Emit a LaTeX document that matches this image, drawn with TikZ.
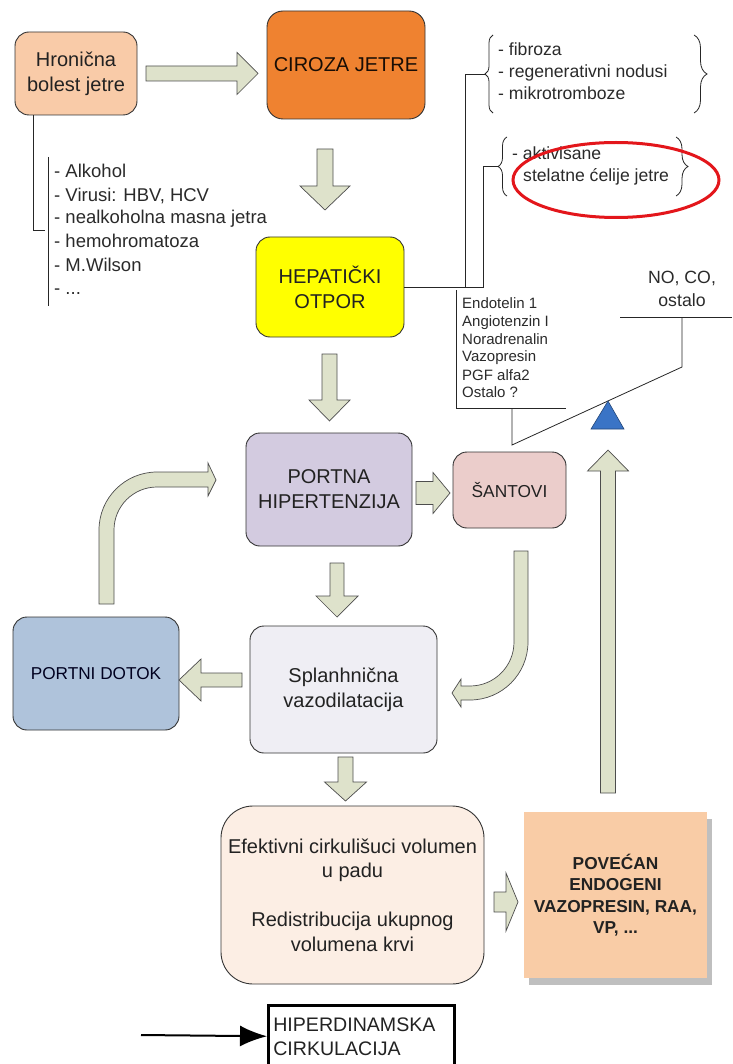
\documentclass[tikz,border=0pt]{standalone}
\usepackage{fontspec}
\setmainfont{Liberation Sans}
\usetikzlibrary{arrows.meta,decorations.pathreplacing,calc}
\definecolor{chron}{HTML}{F9CBA8}
\definecolor{cciroza}{HTML}{EF8230}
\definecolor{chepat}{HTML}{FFFF00}
\definecolor{cportna}{HTML}{D3CBE0}
\definecolor{csant}{HTML}{EBCDCB}
\definecolor{cportni}{HTML}{AFC3DB}
\definecolor{csplanh}{HTML}{EFEEF4}
\definecolor{cefekt}{HTML}{FCEEE4}
\definecolor{cpov}{HTML}{F9CCA6}
\definecolor{arrowfill}{HTML}{DEE2CB}
\definecolor{arrowline}{HTML}{4D4D4D}
\definecolor{boxline}{HTML}{333333}
\definecolor{cshadow}{HTML}{BFBFBF}
\definecolor{ctri}{HTML}{3A74C6}
\definecolor{cred}{HTML}{E3161B}
\definecolor{txt}{HTML}{222222}
\definecolor{listc}{HTML}{2A2A2A}
\newcommand\myfs[2]{\fontsize{#1}{#2}\selectfont}
% #1 x, #2 y (tail centre), #3 angle, #4 length, #5 shaft half width, #6 head half width, #7 head length
\newcommand\blockarrow[7]{%
  \filldraw[fatarrow,shift={(#1,#2)},rotate=#3] (0,-#5) -- (#4-#7,-#5) -- (#4-#7,-#6) -- (#4,0) -- (#4-#7,#6) -- (#4-#7,#5) -- (0,#5) -- cycle;}
\begin{document}
\begin{tikzpicture}[x=1pt,y=-1pt,
  box/.style={draw=boxline, line width=0.9pt, rounded corners=14pt, align=center, inner sep=0pt, text=txt},
  fatarrow/.style={fill=arrowfill, draw=arrowline, line width=0.7pt, line join=miter},
  conn/.style={draw=black!85, line width=0.8pt},
  listtxt/.style={anchor=mid west, inner sep=0pt, font=\myfs{18.5}{22}, text=listc},
  brtxt/.style={anchor=mid west, inner sep=0pt, font=\myfs{17.6}{22}, text=listc},
  smtxt/.style={anchor=mid west, inner sep=0pt, font=\myfs{15}{18}, text=listc},
  br/.style={conn, decorate, decoration={brace, amplitude=#1}},
]
\useasboundingbox (0,0) rectangle (732,1064);

% boxes
\node[box, fill=chron, minimum width=122pt, minimum height=83pt, font=\myfs{20}{25}] (hron) at (76,73.5) {Hronična\\bolest jetre};
\node[box, fill=cciroza, minimum width=158pt, minimum height=108pt, rounded corners=16pt, font=\myfs{20}{25}, text={black!80!cciroza!50!black}] (ciroza) at (346,65) {CIROZA JETRE};
\node[box, fill=chepat, minimum width=148pt, minimum height=100pt, font=\myfs{20}{25}] (hepat) at (330,287) {HEPATIČKI\\OTPOR};
\node[box, fill=cportna, minimum width=166pt, minimum height=113pt, font=\myfs{20}{25}] (portna) at (329,489.5) {PORTNA\\HIPERTENZIJA};
\node[box, fill=csant, minimum width=113pt, minimum height=76pt, font=\myfs{17.3}{22}] (sant) at (509.5,490) {ŠANTOVI};
\node[box, fill=cportni, minimum width=166pt, minimum height=113pt, font=\myfs{17.2}{22}, text={black!70!blue!40!black}] (portni) at (96,673.5) {PORTNI DOTOK};
\node[box, fill=csplanh, minimum width=187pt, minimum height=127pt, font=\myfs{20}{25}] (splanh) at (343.5,689.5) {Splanhnična\\vazodilatacija};
\node[box, fill=cefekt, minimum width=263pt, minimum height=178pt, rounded corners=32pt, font=\myfs{20}{24.5}] (efekt) at (352.5,895) {Efektivni cirkulišuci volumen\\u padu\\[24.5pt]Redistribucija ukupnog\\volumena krvi};
\fill[cshadow] (529,819) rectangle (712,985);
\node[fill=cpov, minimum width=183pt, minimum height=166pt, inner sep=0pt, align=center, font=\bfseries\myfs{17.3}{21.5}, text=txt] (pov) at (615.5,895) {POVEĆAN\\ENDOGENI\\VAZOPRESIN, RAA,\\VP, ...};
\node[draw=black, line width=2.5pt, minimum width=186pt, minimum height=62pt, anchor=north west, inner sep=5pt, align=left, font=\myfs{19.6}{24}, text=txt, text width=176pt] (hiper) at (267,1004) {HIPERDINAMSKA\\CIRKULACIJA};
\coordinate (hstart) at (141,1035);
\draw[line width=2pt, -{Latex[length=27pt,width=21pt]}] (hstart) -- (hiper.west);

% block arrows
\blockarrow{146}{73.5}{0}{112}{7.5}{21}{21}
\blockarrow{325}{149}{-90}{61}{8}{25}{24}
\blockarrow{329.5}{354}{-90}{67}{7.5}{20.5}{21}
\blockarrow{416}{493}{0}{34}{11.5}{20.5}{17}
\blockarrow{337}{563}{-90}{54}{7}{21}{21}
\blockarrow{242}{680}{180}{63}{7}{21}{22}
\blockarrow{345.5}{757}{-90}{44}{7.5}{21}{19}
\blockarrow{494}{902}{0}{24}{10}{29}{12}
\blockarrow{608}{793}{90}{343}{7.5}{20.5}{21}

% curved block arrows
\filldraw[fatarrow] (99,604) -- (99,530) arc[start angle=180, end angle=270, radius=58] -- (208,472) -- (208,463) -- (216,480) -- (208,496) -- (208,487) -- (157,487) arc[start angle=270, end angle=180, radius=43] -- (114,604) -- cycle;
\filldraw[fatarrow] (514,551) -- (528,551) -- (528,642) arc[start angle=0, end angle=90, radius=58] -- (461,700) -- (461,707) -- (452,693) -- (461,679) -- (461,686) -- (470,686) arc[start angle=90, end angle=0, radius=44] -- cycle;

% left list
\draw[conn] ($(hron.south west)+(19,0)$) |- (45,230);
\draw[conn] (48,157) -- (48,306);
\foreach \t/\y in {{- Alkohol}/173, {- Virusi: HBV, HCV}/197, {- nealkoholna masna jetra}/219, {- hemohromatoza}/243, {- M.Wilson}/267, {- ...}/290}
  \node[listtxt] at (54,\y+2) {\t};

% braces and lines from hepaticki
\coordinate (b1tip) at (485,74);
\coordinate (b2tip) at (498,166);
\draw[conn] (hepat.east) -- (483,287) |- (b2tip);
\draw[conn] (465,287) |- (b1tip);
\draw[br=8pt] (493,113) -- (493,35);
\draw[br=13pt] (694,35) -- (694,113);
\draw[br=9pt] (507,196) -- (507,137);
\draw[br=12pt] (676,137) -- (676,196);
\node[brtxt] at (498,53) {- fibroza};
\node[brtxt] at (498,75) {- regenerativni nodusi};
\node[brtxt] at (498,97) {- mikrotromboze};
\node[brtxt] at (512,157) {- aktivisane};
\node[brtxt] at (523,179) {stelatne ćelije jetre};
\draw[cred, line width=3pt] (616,180) ellipse [x radius=103, y radius=37.5];

% vasoconstrictor list and seesaw
\draw[conn] (456,290) -- (456,408) -- (566,408);
\foreach \t/\y in {{Endotelin 1}/304, {Angiotenzin I}/322, {Noradrenalin}/340, {Vazopresin}/357, {PGF alfa2}/376, {Ostalo ?}/393}
  \node[smtxt] at (462,\y+1.5) {\t};
\coordinate (pivL) at (512,445);
\coordinate (pivR) at (682,367);
\draw[conn] (512,408) -- (pivL) -- (pivR) -- (682,317);
\draw[conn] (620,317) -- (732,317);
\node[align=center, inner sep=0pt, font=\myfs{17.7}{23}, text=listc] (noco) at (682,289) {NO, CO,\\ostalo};
\filldraw[fill=ctri, draw=ctri!60!black, line width=0.6pt] (608,401) -- (624,429) -- (591,429) -- cycle;
\end{tikzpicture}
\end{document}
